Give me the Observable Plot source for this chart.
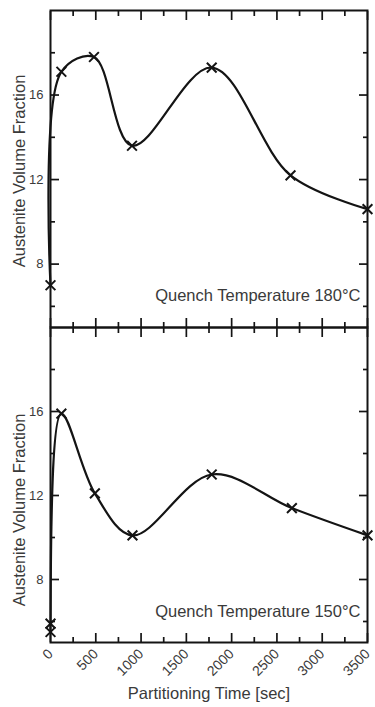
<!DOCTYPE html>
<html>
<head>
<meta charset="utf-8">
<script src="https://cdn.jsdelivr.net/npm/d3@7"></script>
<script src="https://cdn.jsdelivr.net/npm/@observablehq/plot@0.6"></script>
<style>
  body { margin: 0; background: #fff; }
  #chart svg { display: block; overflow: visible; }
</style>
</head>
<body>
<div id="chart"></div>
<script>
// ---- data ----
const panelLabels = ["Quench Temperature 180°C", "Quench Temperature 150°C"];
const yAxisLabel = "Austenite Volume Fraction";
const xAxisLabel = "Partitioning Time [sec]";

const timeTop = [0, 120, 480, 900, 1780, 2650, 3500];
const fracTop = [7.0, 17.1, 17.8, 13.6, 17.3, 12.2, 10.6];

const timeBottom = [0, 0, 120, 490, 905, 1780, 2665, 3500];
const fracBottom = [5.5, 5.9, 15.9, 12.1, 10.1, 13.0, 11.4, 10.1];

const xMajor = [0, 500, 1000, 1500, 2000, 2500, 3000, 3500];
const xMinor = [250, 750, 1250, 1750, 2250, 2750, 3250];
const xTickLabels = ["0", "500", "1000", "1500", "2000", "2500", "3000", "3500"];
const yMajor = [8, 12, 16];
const yMinor = [6, 10, 14, 18];
const yTickLabels = ["8", "12", "16"];

const xDomain = [0, 3500];
const yDomain = [5, 20];

// ---- drawing ----
const ink = "#141414";
const textInk = "#3a3a3a";
const font = "'Liberation Sans', Arial, Helvetica, sans-serif";

function frameTicks() {
  const o = {fill: "none", stroke: ink, strokeWidth: 1.7};
  return [
    Plot.axisX({...o, anchor: "top", ticks: xMajor, tickSize: -9}),
    Plot.axisX({...o, anchor: "top", ticks: xMinor, tickSize: -5}),
    Plot.axisX({...o, anchor: "bottom", ticks: xMajor, tickSize: -9}),
    Plot.axisX({...o, anchor: "bottom", ticks: xMinor, tickSize: -5}),
    Plot.axisY({...o, anchor: "left", ticks: yMajor, tickSize: -9}),
    Plot.axisY({...o, anchor: "left", ticks: yMinor, tickSize: -5}),
    Plot.axisY({...o, anchor: "right", ticks: yMajor, tickSize: -9}),
    Plot.axisY({...o, anchor: "right", ticks: yMinor, tickSize: -5})
  ];
}

function panel(times, fracs, label, opts) {
  const series = times.map((t, i) => ({t, v: fracs[i]}));
  return Plot.plot({
    width: 375,
    height: opts.height,
    marginTop: opts.marginTop,
    marginBottom: opts.marginBottom,
    marginLeft: 50,
    marginRight: 8,
    style: {overflow: "visible", fontFamily: font, color: ink, background: "transparent"},
    x: {domain: xDomain, axis: null},
    y: {domain: yDomain, axis: null},
    marks: [
      Plot.frame({stroke: ink, strokeWidth: 2}),
      ...frameTicks(),
      Plot.axisY({anchor: "left", ticks: yMajor, tickSize: 0, tickPadding: 7, label: null,
        tickFormat: d => yTickLabels[yMajor.indexOf(d)], fontSize: 13, fill: textInk}),
      ...(opts.xLabels ? [
        Plot.axisX({anchor: "bottom", ticks: xMajor, tickSize: 0, tickPadding: 9, tickRotate: -45, label: null,
          tickFormat: d => xTickLabels[xMajor.indexOf(d)], fontSize: 14, fill: textInk}),
        Plot.text([xAxisLabel], {text: d => d, frameAnchor: "bottom", dy: 56, fontSize: 16.5, fill: textInk})
      ] : []),
      Plot.text([yAxisLabel], {text: d => d, frameAnchor: "left", textAnchor: "middle", rotate: -90, dx: -31, dy: opts.yLabelDy, fontSize: 16.5, fill: textInk}),
      Plot.text([label], {text: d => d, frameAnchor: "bottom-right", textAnchor: "end", dx: -7, dy: opts.labelDy, fontSize: 16.5, fill: textInk}),
      Plot.line(series, {x: "t", y: "v", curve: "catmull-rom", stroke: ink, strokeWidth: 2.2}),
      Plot.dot(series, {x: "t", y: "v", symbol: "times", r: 4.5, stroke: ink, strokeWidth: 2})
    ]
  });
}

const chart = document.getElementById("chart");
chart.append(panel(timeTop, fracTop, panelLabels[0], {height: 327, marginTop: 10, marginBottom: 0, labelDy: -27, yLabelDy: 2}));
chart.append(panel(timeBottom, fracBottom, panelLabels[1], {height: 380, marginTop: 0, marginBottom: 65, labelDy: -26, yLabelDy: 25, xLabels: true}));
</script>
</body>
</html>
